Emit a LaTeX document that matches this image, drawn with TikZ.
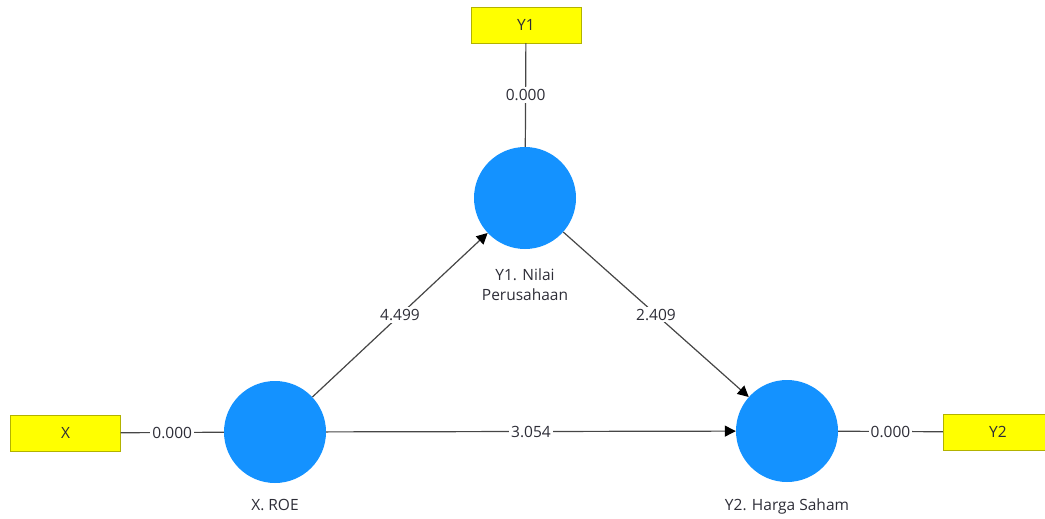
\documentclass[tikz,border=0pt]{standalone}
\usepackage{fontspec}
\setmainfont{Open Sans}
\usepackage{tikz}
\usetikzlibrary{shapes,arrows.meta,positioning}
\definecolor{constructcolor}{RGB}{20,146,255}
\definecolor{indicatorcolor}{RGB}{255,255,0}
\definecolor{edgecolor}{RGB}{70,70,70}
\definecolor{textcolor}{RGB}{45,45,55}

\begin{document}
\begin{tikzpicture}[x=1pt,y=-1pt,
	indicator/.style={
		rectangle,
		draw=indicatorcolor!70!black,
		fill=indicatorcolor,
		inner sep=0pt,
		minimum width=110pt,
		minimum height=36pt,
		text=textcolor,
		font=\fontsize{15.5}{19}\selectfont},
	construct/.style={
		circle,
		fill=constructcolor,
		inner sep=0pt,
		minimum size=102pt},
	caption/.style={
		align=center,
		inner sep=0pt,
		text=textcolor,
		font=\fontsize{15.5}{20}\selectfont},
	weight/.style={
		fill=white,
		inner sep=2pt,
		text=textcolor,
		font=\fontsize{15.5}{19}\selectfont},
	line/.style={
	draw=edgecolor,
	line width=1.2pt},
	effect/.style={
	line,
	-{Triangle[length=11pt,width=11pt,color=black]}}]

    \useasboundingbox (0,0) rectangle (1045,519);

    % Place nodes
    \node [construct] (roe) at (275,432) {};
    \node [construct] (y1) at (525,198) {};
    \node [construct] (y2) at (787,431) {};
    \node [indicator] (x) at (65.5,433) {X};
    \node [indicator] (y1ind) at (526,25) {Y1};
    \node [indicator] (y2ind) at (998,432) {Y2};
    \node [caption, below=16pt of roe] (roecap) {X. ROE};
    \node [caption, below=19pt of y1] (y1cap) {Y1. Nilai\\Perusahaan};
    \node [caption, below=16pt of y2] (y2cap) {Y2. Harga Saham};
    % Draw edges
    \path [line] (x) -- node[weight] {0.000} (roe);
    \path [line] (y1ind) -- node[weight] {0.000} (y1);
    \path [line] (y2) -- node[weight] {0.000} (y2ind);
    \path [effect] (roe) -- node[weight] {4.499} (y1);
    \path [effect] (y1) -- node[weight] {2.409} (y2);
    \path [effect] (roe) -- node[weight] {3.054} (y2);
\end{tikzpicture}
\end{document}
